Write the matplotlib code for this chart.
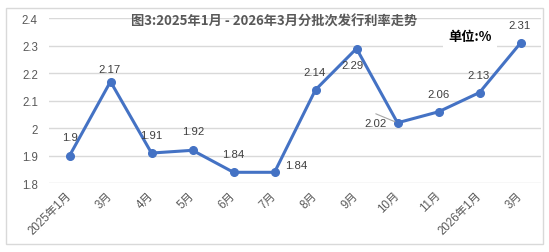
import matplotlib
matplotlib.use("Agg")
import matplotlib.pyplot as plt
from matplotlib.patches import Rectangle

categories = ["2025年1月", "3月", "4月", "5月", "6月", "7月", "8月", "9月", "10月", "11月", "2026年1月", "3月"]
rates = [1.90, 2.17, 1.91, 1.92, 1.84, 1.84, 2.14, 2.29, 2.02, 2.06, 2.13, 2.31]
label_texts = ["1.9", "2.17", "1.91", "1.92", "1.84", "1.84", "2.14", "2.29", "2.02", "2.06", "2.13", "2.31"]
yticks = [1.8, 1.9, 2.0, 2.1, 2.2, 2.3, 2.4]
ytick_labels = ["1.8", "1.9", "2", "2.1", "2.2", "2.3", "2.4"]
title = "图3:2025年1月 - 2026年3月分批次发行利率走势"
unit_text = "单位:%"

# label offsets in pixels (dx, dy)
offsets = [(1, 18.7), (-1, 13), (0, 18), (0.5, 19), (0, 18.6), (22, 7),
           (-1, 18), (-4, -16), (-22, -0.5), (0, 18), (-1, 18), (-1, 18)]

fams = ["Liberation Sans", "Noto Sans CJK SC", "DejaVu Sans"]
plt.rcParams["font.family"] = fams

fig = plt.figure(figsize=(5.49, 2.53), dpi=100)
fig.patch.set_facecolor("white")
fig.patches.append(Rectangle((6/549, 1-245/253), (543-6)/549, (245-9)/253,
                             transform=fig.transFigure, fill=False,
                             edgecolor="#D9D9D9", lw=1.0))

ax = fig.add_axes([49/549, 1-184.3/253, (541-49)/549, (184.3-19.3)/253])
x = list(range(len(categories)))
ax.set_xlim(-0.5, len(categories)-0.5)
ax.set_ylim(1.8, 2.4)
ax.set_yticks(yticks)
ax.set_yticklabels(ytick_labels)
ax.grid(axis="y", color="#D9D9D9", lw=1.0)
ax.set_axisbelow(True)
for s in ax.spines.values():
    s.set_visible(False)
ax.tick_params(axis="both", length=0, colors="#595959", labelsize=8.3)
ax.tick_params(axis="y", pad=8)
ax.set_xticks(x)
ax.set_xticklabels(categories, rotation=45, ha="right", va="center",
                   rotation_mode="anchor")
ax.tick_params(axis="x", pad=7)

ax.plot(x, rates, color="#4472C4", lw=2.2, marker="o", markersize=5.5,
        solid_capstyle="round", zorder=3)

for i, (v, t) in enumerate(zip(rates, label_texts)):
    dx, dy = offsets[i]
    ax.annotate(t, xy=(i, v), xytext=(dx, dy), textcoords="offset pixels",
                ha="center", va="center", fontsize=8.2, color="#404040", zorder=4)

ax.annotate("", xy=(8, rates[8]), xytext=(-21.7, 9), textcoords="offset pixels",
            arrowprops=dict(arrowstyle="-", color="#A6A6A6", lw=0.8,
                            shrinkA=0, shrinkB=2))

fig.text(0.5, 1-21.5/253, title, ha="center", va="center", fontsize=9.5,
         fontweight="bold", color="#595959",
         family=["Noto Sans CJK SC", "DejaVu Sans"])
fig.text(470/549, 1-36.7/253, unit_text, ha="center", va="center", fontsize=9.5,
         fontweight="bold", color="black",
         family=["Noto Sans CJK SC", "DejaVu Sans"],
         bbox=dict(facecolor="white", edgecolor="none", pad=4))

fig.savefig("out.png", dpi=100, facecolor="white")
